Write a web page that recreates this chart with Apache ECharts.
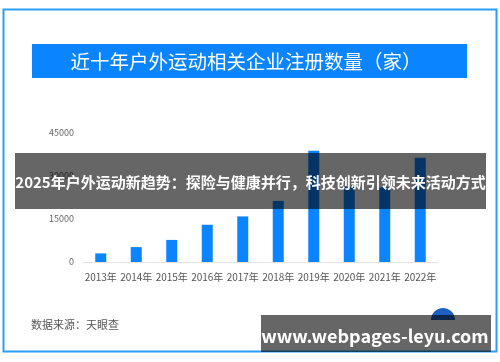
<!DOCTYPE html>
<html><head><meta charset="utf-8">
<script src="https://cdn.jsdelivr.net/npm/echarts@6/dist/echarts.min.js"></script>
<style>html,body{margin:0;padding:0;background:#fff}#c{width:500px;height:362px}</style>
</head><body><div id="c"></div>
<script>
const categories = ['2013年','2014年','2015年','2016年','2017年','2018年','2019年','2020年','2021年','2022年'];
const values = [3000, 5200, 7700, 13000, 15900, 21300, 38800, 26200, 26000, 36400];
const yTicks = [0, 15000, 30000, 45000];
const title = '近十年户外运动相关企业注册数量（家）';
const source = '数据来源：天眼查';
const banner1 = '2025年户外运动新趋势：探险与健康并行，科技创新引领未来活动方式';
const banner2 = 'www.webpages-leyu.com';
const FONT = '"Noto Sans CJK SC","Noto Sans",sans-serif';

const chart = echarts.init(document.getElementById('c'), null, {renderer:'canvas'});
chart.setOption({
  animation:false,
  backgroundColor:'#fff',
  grid:{left:83, right:62, top:133, bottom:100},
  xAxis:{type:'category', data:categories,
    axisLine:{lineStyle:{color:'#e3e3e3', width:1}}, axisTick:{show:false},
    axisLabel:{color:'#555', fontSize:10, fontFamily:FONT, margin:10, interval:0}},
  yAxis:{type:'value', min:yTicks[0], max:yTicks[yTicks.length-1], interval:15000,
    axisLine:{show:false}, axisTick:{show:false}, splitLine:{show:false},
    axisLabel:{color:'#666', fontSize:9, fontFamily:FONT, margin:9, formatter:v => String(v)}},
  series:[{type:'bar', data:values, barWidth:11,
    itemStyle:{color:'#0a84ff'}}],
  graphic:[
    {type:'rect', z:-10, shape:{x:3.5,y:9.5,width:493,height:342}, style:{fill:'none', stroke:'#2a9df4', lineWidth:2}},
    {type:'rect', z:1, shape:{x:32,y:44,width:435,height:34}, style:{fill:'#0a84ff'}},
    {type:'text', z:2, x:246, y:61.5, style:{text:title, fill:'#fff', font:'19.5px '+FONT, align:'center', verticalAlign:'middle'}},
    {type:'text', z:2, x:31, y:325, style:{text:source, fill:'#555', font:'11px '+FONT, align:'left', verticalAlign:'middle'}},
    {type:'sector', z:50, shape:{cx:443, cy:320, r0:0, r:12, startAngle:Math.PI, endAngle:2*Math.PI}, style:{fill:'#1f5fbf'}},
    {type:'rect', z:100, shape:{x:15,y:153,width:471,height:56}, style:{fill:'rgba(0,0,0,0.6)'}},
    {type:'text', z:101, x:250.5, y:182, style:{text:banner1, fill:'#fff', font:'bold 15px '+FONT, align:'center', verticalAlign:'middle'}},
    {type:'rect', z:100, shape:{x:261,y:315,width:230,height:37}, style:{fill:'rgba(0,0,0,0.6)'}},
    {type:'text', z:101, x:375, y:336, style:{text:banner2, fill:'#fff', font:'bold 18px '+FONT, align:'center', verticalAlign:'middle'}}
  ]
});
</script></body></html>
